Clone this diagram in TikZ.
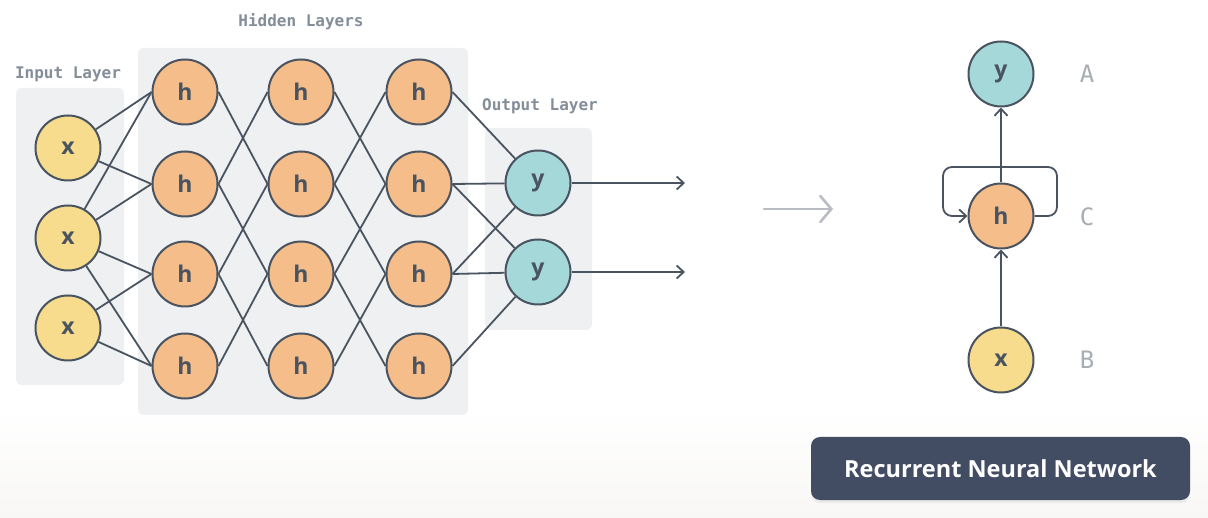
\documentclass[tikz,border=0pt]{standalone}
\usepackage{fontspec}
\setmainfont{Open Sans}
\newfontfamily\monofont{DejaVu Sans Mono}
\newfontfamily\abcfont{DejaVu Sans Mono}
\usetikzlibrary{arrows.meta,shadows}
\definecolor{edge}{HTML}{4A5460}
\definecolor{xfill}{HTML}{F6DC8C}
\definecolor{hfill}{HTML}{F4BD89}
\definecolor{yfill}{HTML}{A5D8D9}
\definecolor{panel}{HTML}{EEF0F2}
\definecolor{lbl}{HTML}{848E99}
\definecolor{btn}{HTML}{424C63}
\definecolor{abc}{HTML}{A8ADB3}
\definecolor{garrow}{HTML}{B9BDC3}
\definecolor{bgband}{HTML}{F8F7F5}
\tikzset{
  neuron/.style={circle, draw=edge, line width=2pt, minimum size=65pt, inner sep=0pt,
    font=\bfseries\fontsize{23}{23}\selectfont, text=edge},
  xn/.style={neuron, fill=xfill},
  hn/.style={neuron, fill=hfill},
  yn/.style={neuron, fill=yfill},
  conn/.style={draw=edge, line width=1.8pt},
  tip/.style={-{Straight Barb[length=7pt,width=13pt]}},
  panelbox/.style={fill=panel, rounded corners=6pt},
  layerlbl/.style={font=\monofont\bfseries\fontsize{16}{16}\selectfont, text=lbl},
  abclbl/.style={font=\abcfont\fontsize{24}{24}\selectfont, text=abc},
  button/.style={fill=btn, rounded corners=9pt, minimum width=379pt, minimum height=63pt,
    text=white, font=\bfseries\fontsize{23.5}{23.5}\selectfont,
    drop shadow={opacity=0.10, shadow xshift=0pt, shadow yshift=-3pt}}
}
\begin{document}
\begin{tikzpicture}[x=1pt,y=-1pt]
\useasboundingbox (0,0) rectangle (1208,518);
\fill[white] (0,0) rectangle (1208,518);
\fill[top color=white, bottom color=bgband] (0,410) rectangle (1208,518);
% panels
\fill[panelbox] (16,88) rectangle (124,385);
\fill[panelbox] (138,48) rectangle (468,415);
\fill[panelbox] (485,128) rectangle (592,330);
\node[layerlbl] (lin) at (68,74) {Input Layer};
\node[layerlbl] (lhid) at (301,22) {Hidden Layers};
\node[layerlbl] (lout) at (540,106) {Output Layer};
% input nodes
\node[xn] (x1) at (68,148) {x};
\node[xn] (x2) at (68,238) {x};
\node[xn] (x3) at (68,328) {x};
% hidden nodes
\foreach \c/\cx in {1/185,2/301,3/419}{
  \foreach \r/\ry in {1/92,2/184,3/274,4/366}{
    \node[hn] (h\c\r) at (\cx,\ry) {h};
  }
}
% output nodes
\node[yn] (y1) at (538,183) {y};
\node[yn] (y2) at (538,272) {y};
% input -> hidden
\draw[conn] (x1) -- (h11.west);
\draw[conn] (x1) -- (h12.west);
\draw[conn] (x2) -- (h11.west);
\draw[conn] (x2) -- (h12.west);
\draw[conn] (x2) -- (h13.west);
\draw[conn] (x2) -- (h14.west);
\draw[conn] (x3) -- (h13.west);
\draw[conn] (x3) -- (h14.west);
% hidden -> hidden
\foreach \c/\n in {1/2,2/3}{
  \foreach \r/\s in {1/2,2/3,3/4}{
    \draw[conn] (h\c\r.east) -- (h\n\s.west);
    \draw[conn] (h\c\s.east) -- (h\n\r.west);
  }
}
% hidden -> output
\draw[conn] (h31.east) -- (y1);
\draw[conn] (h32.east) -- (y1);
\draw[conn] (h32.east) -- (y2);
\draw[conn] (h33.east) -- (y1);
\draw[conn] (h33.east) -- (y2);
\draw[conn] (h34.east) -- (y2);
% output arrows
\coordinate (o1) at (685,183);
\coordinate (o2) at (685,272);
\draw[conn,tip] (y1) -- (o1);
\draw[conn,tip] (y2) -- (o2);
% gray transition arrow
\coordinate (ga) at (764,209);
\coordinate (gb) at (833,209);
\draw[draw=garrow, line width=2.6pt, line cap=round,
  -{Straight Barb[length=11pt,width=26pt,line cap=round]}] (ga) -- (gb);
% RNN
\node[yn] (yr) at (1001,74) {y};
\node[hn] (hr) at (1001,216) {h};
\node[xn] (xr) at (1001,360) {x};
\draw[conn,tip] (xr) -- (hr);
\draw[conn,tip] (hr) -- (yr);
\coordinate (lt) at (943,167);
\coordinate (rt) at (1057,167);
\draw[conn,tip,rounded corners=9pt] (hr.east) -- (hr.east -| rt) -- (rt) -- (lt) -- (hr.west -| lt) -- (hr.west);
\node[abclbl] (la) at (1087,74) {A};
\node[abclbl] (lc) at (1087,217) {C};
\node[abclbl] (lb) at (1087,360) {B};
% button
\node[button] (btn) at (1000.5,468.5) {Recurrent Neural Network};
\end{tikzpicture}
\end{document}
